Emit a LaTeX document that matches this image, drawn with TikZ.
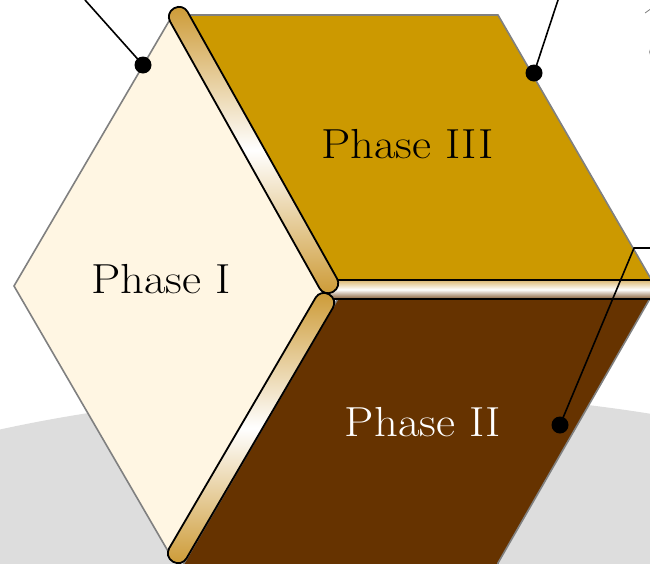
\documentclass[tikz,border=0pt]{standalone}
\usepackage{fontspec}
\definecolor{creamc}{HTML}{FFF6E3}
\definecolor{goldc}{HTML}{CC9900}
\definecolor{brownc}{HTML}{663300}
\definecolor{barc}{HTML}{CC9933}
\definecolor{edgec}{HTML}{808080}
\definecolor{groundc}{HTML}{DDDDDD}
\tikzset{
  face/.style={draw=edgec,line width=1.6pt,line join=miter},
  barshape/.style={draw=black,line width=1.8pt},
  leader/.style={draw=black,line width=1.6pt},
  dotc/.style={circle,fill=black,inner sep=0pt,minimum size=17pt},
  lbl/.style={font=\fontsize{42}{50}\selectfont,inner sep=0pt,text=black,xscale=1.11,transform shape}
}
\begin{document}
\begin{tikzpicture}[x=1pt,y=-1pt]
\useasboundingbox (0,0) rectangle (650,563);
\clip (0,0) rectangle (650,563);
\fill[groundc] (367,729) ellipse [x radius=800,y radius=337];
% faces
\path[face,fill=creamc] (14,286) -- (172,16) -- (325,292) -- (172,558) -- cycle;
\path[face,fill=goldc] (188,15) -- (498,15) -- (655,286) -- (340,286) -- cycle;
\path[face,fill=brownc] (340,295) -- (652,295) -- (498,563) -- (498,570) -- (180,570) -- cycle;
% horizontal bar
\path[barshape,top color=barc!70!white,bottom color=brownc!80!white,middle color=white,rounded corners=6pt] (326,280) rectangle (670,299);
% oblique bars
\begin{scope}[shift={(178,553)},rotate=-30.3]
\path[barshape,top color=barc,bottom color=barc,middle color=white,rounded corners=9.5pt]
  (-10,10) rectangle (10,-299.5);
\end{scope}
\begin{scope}[shift={(179,17)},rotate=29.26]
\path[barshape,top color=barc,bottom color=barc,middle color=white,rounded corners=9.5pt]
  (-10,-10) rectangle (10,315);
\end{scope}
% leaders
\coordinate (a0) at (85,0);
\node[dotc] (a1) at (143,65) {};
\draw[leader] (a0) -- (a1.center);
\coordinate (b0) at (558,0);
\node[dotc] (b1) at (534,73) {};
\draw[leader] (b0) -- (b1.center);
\coordinate (c0) at (652,248);
\coordinate (c1) at (634,248);
\node[dotc] (c2) at (560,425) {};
\draw[leader] (c0) -- (c1) -- (c2.center);
\node[dotc] (d1) at (658,52) {};
\coordinate (e0) at (645,13);
\coordinate (e1) at (652,8);
\draw[edgec,line width=.8pt] (e0) -- (e1);
% labels
\node[lbl] (p1) at (161,279) {Phase I};
\node[lbl] (p3) at (407.5,144) {Phase III};
\node[lbl,text=white] (p2) at (423,422) {Phase II};
\end{tikzpicture}
\end{document}
